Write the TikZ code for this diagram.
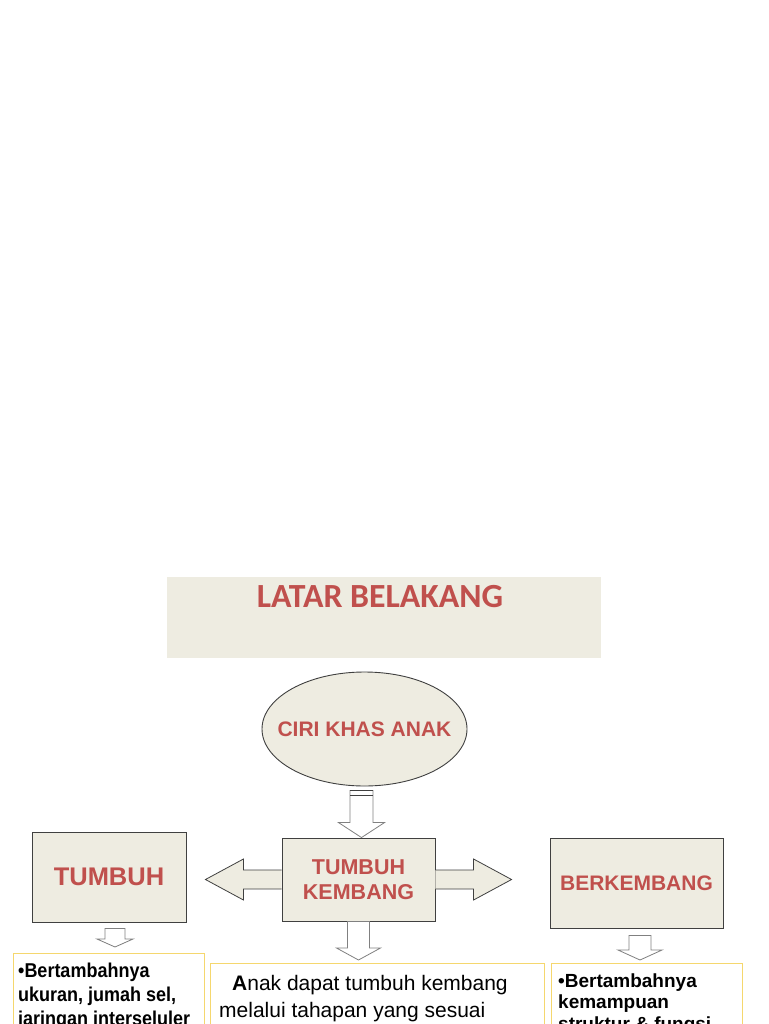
\documentclass[tikz,border=0pt]{standalone}
\usepackage{fontspec}
\setmainfont{Liberation Sans}
\newfontfamily\calibrifont{Carlito}
\newfontfamily\narrowfont[FakeStretch=0.9]{Liberation Sans}
\usetikzlibrary{calc}
\usetikzlibrary{shapes.geometric}

\definecolor{beige}{HTML}{EEECE1}
\definecolor{titlered}{HTML}{C0504D}
\definecolor{boxline}{HTML}{404040}
\definecolor{goldline}{HTML}{F5D76E}
\definecolor{arrowline}{HTML}{808080}

\tikzset{
  beigebox/.style={draw=boxline, fill=beige, line width=0.9pt, inner sep=0pt},
  redlabel/.style={text=titlered, align=center},
  textbox/.style={draw=goldline, line width=1pt, inner sep=0pt, anchor=north west},
  bodytext/.style={anchor=base west, inner sep=0pt},
  downarrow/.style={draw=arrowline, fill=white, line width=0.8pt},
  sidearrow/.style={draw=boxline, fill=beige, line width=0.8pt}
}

% block arrow pointing down: from, to, shaft half width, head half width, head length
\newcommand{\downblock}[5]{%
  \draw[downarrow] let \p1=(#1), \p2=(#2) in
    (\x1-#3pt,\y1) -- (\x1+#3pt,\y1) -- (\x1+#3pt,\y2+#5pt) -- (\x1+#4pt,\y2+#5pt)
    -- (\x1,\y2) -- (\x1-#4pt,\y2+#5pt) -- (\x1-#3pt,\y2+#5pt) -- cycle;
}

\begin{document}
\begin{tikzpicture}[x=1pt,y=-1pt]
\useasboundingbox (0,0) rectangle (768,1024);
\fill[white] (0,0) rectangle (768,1024);
\clip (0,0) rectangle (768,1024);

% title
\node[fill=beige, minimum width=434pt, minimum height=81pt, inner sep=0pt] (latar) at (384,617.5) {};
\node[redlabel, anchor=base, inner sep=0pt,
      font=\calibrifont\bfseries\fontsize{33.8}{40}\selectfont] (latartext) at (380,607) {LATAR BELAKANG};

% main nodes
\node[beigebox, ellipse, minimum width=205pt, minimum height=114pt] (ciri) at (364.5,729) {};
\node[redlabel, inner sep=0pt, font=\bfseries\fontsize{21}{25}\selectfont] (ciritext) at (ciri) {CIRI KHAS ANAK};
\node[beigebox, minimum width=153pt, minimum height=83pt, redlabel,
      font=\bfseries\fontsize{21.5}{25}\selectfont] (tk) at (358.5,879.5) {TUMBUH\\KEMBANG};
\node[beigebox, minimum width=154pt, minimum height=90pt, redlabel,
      font=\bfseries\fontsize{25.5}{30}\selectfont] (tumbuh) at (109,877) {TUMBUH};
\node[beigebox, minimum width=173pt, minimum height=90pt, redlabel,
      font=\bfseries\fontsize{21}{25}\selectfont] (berkembang) at (636.5,883) {BERKEMBANG};

% text boxes
\node[textbox, minimum width=191pt, minimum height=110pt] (leftbox) at (13,953) {};
\node[textbox, minimum width=334pt, minimum height=100pt] (midbox) at (210,963) {};
\node[textbox, minimum width=191pt, minimum height=100pt] (rightbox) at (551,963) {};

\node[bodytext, font=\narrowfont\bfseries\fontsize{20}{24}\selectfont] (lefttext) at (18,977)
  {\begin{tabular}[t]{@{}l@{}}•Bertambahnya\\ukuran, jumah sel,\\jaringan interseluler\end{tabular}};
\node[bodytext, font=\fontsize{21}{27}\selectfont] (midtext) at (219,990)
  {\begin{tabular}[t]{@{}l@{}}\hspace*{13pt}\textbf{A}nak dapat tumbuh kembang\\melalui tahapan yang sesuai\end{tabular}};
\node[bodytext, font=\bfseries\fontsize{19}{21.5}\selectfont] (righttext) at (558,987)
  {\begin{tabular}[t]{@{}l@{}}•Bertambahnya\\kemampuan\\struktur \& fungsi\end{tabular}};

% side arrows
\draw[sidearrow] let \p1=(tk.west), \p2=($(tumbuh.east)+(19,0)$) in
  (\x1,\y1+9.5pt) -- (\x2+38pt,\y1+9.5pt) -- (\x2+38pt,\y1+20.5pt) -- (\x2,\y1)
  -- (\x2+38pt,\y1-20.5pt) -- (\x2+38pt,\y1-9.5pt) -- (\x1,\y1-9.5pt);
\draw[sidearrow] let \p1=(tk.east), \p2=($(berkembang.west)+(-38,0)$) in
  (\x1,\y1+9.5pt) -- (\x2-38pt,\y1+9.5pt) -- (\x2-38pt,\y1+20.5pt) -- (\x2,\y1)
  -- (\x2-38pt,\y1-20.5pt) -- (\x2-38pt,\y1-9.5pt) -- (\x1,\y1-9.5pt);

% down arrows
\downblock{$(ciri.south)+(-3,4)$}{tk.north}{11.5}{23}{15}
\draw[boxline, line width=1.2pt] let \p1=($(ciri.south)+(-3,4)$) in
  (\x1-11.5pt,\y1) -- (\x1+11.5pt,\y1) (\x1-11.5pt,\y1-5pt) -- (\x1+11.5pt,\y1-5pt);
\downblock{tk.south}{$(midbox.north)+(0,-3)$}{11}{22}{12}
\downblock{$(tumbuh.south)+(6,6)$}{$(leftbox.north)+(0,-6)$}{10}{18}{8}
\downblock{$(berkembang.south)+(3.5,7)$}{$(rightbox.north)+(0,-3)$}{11}{22}{10}
\end{tikzpicture}
\end{document}
